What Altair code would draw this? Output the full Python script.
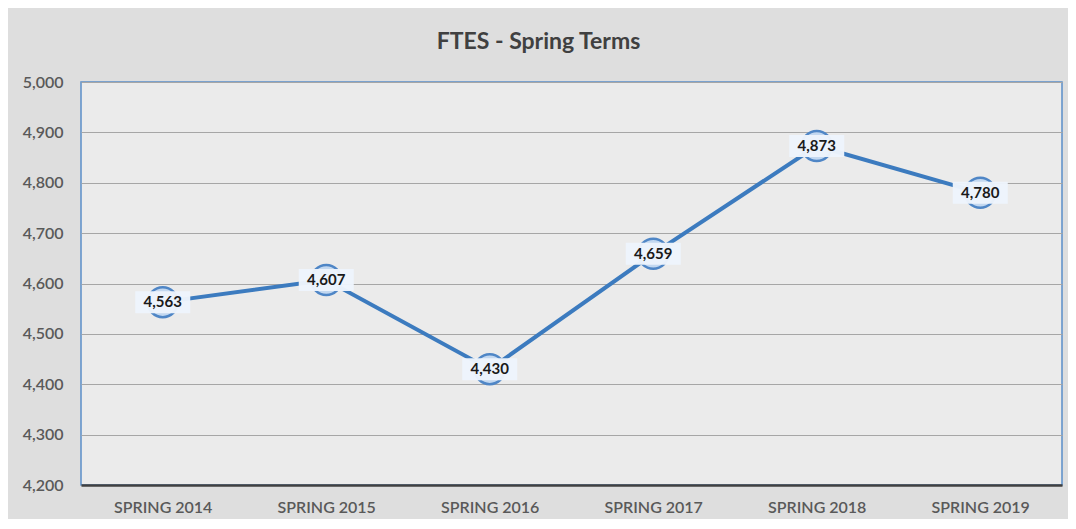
import altair as alt
import pandas as pd

terms = ["SPRING 2014", "SPRING 2015", "SPRING 2016", "SPRING 2017", "SPRING 2018", "SPRING 2019"]
ftes = [4563, 4607, 4430, 4659, 4873, 4780]

df = pd.DataFrame({"term": terms, "ftes": ftes})

FONT = "Lato"

x = alt.X("term:N", sort=terms, title=None,
          scale=alt.Scale(type="point", padding=0.5),
          axis=alt.Axis(labelAngle=0, labelFontSize=16, labelColor="#595959", labelFont=FONT,
                        labelFontWeight=600, labelPadding=14, ticks=False, domainColor="#404040",
                        domainWidth=2.5, grid=False))
y = alt.Y("ftes:Q", title=None,
          scale=alt.Scale(domain=[4200, 5000], nice=False, zero=False),
          axis=alt.Axis(values=list(range(4200, 5001, 100)), format=",.0f", labelFontSize=16,
                        labelColor="#595959", labelFont=FONT, labelFontWeight=600, labelPadding=18,
                        ticks=False, domain=False, grid=True, gridColor="#a6a6a6", gridWidth=1))

base = alt.Chart(df).encode(x=x, y=y)

line = base.mark_line(color="#3c7bbf", strokeWidth=4)
dots = base.mark_circle(size=900, color="#c3d8f0", stroke="#4f86c6", strokeWidth=2.5, opacity=1)
boxes = base.mark_point(shape="M-1,-0.4L1,-0.4L1,0.4L-1,0.4Z", size=3025, filled=True,
                        color="#edf4fc", opacity=0.97, strokeWidth=0)
labels = base.mark_text(font=FONT, fontSize=15, fontWeight="bold", color="#1a1a1a").encode(
    text=alt.Text("ftes:Q", format=",.0f"))

chart = alt.layer(line, dots, boxes, labels).properties(
    width=981, height=403,
    autosize=alt.AutoSizeParams(type="none"),
    padding={"left": 73, "top": 74, "right": 6, "bottom": 34},
    background="#dedede",
    title=alt.TitleParams("FTES - Spring Terms", font=FONT, fontSize=23, fontWeight="bold",
                          color="#404040", anchor="middle", offset=20, dx=-33),
).configure_view(
    stroke="#5b8ec9", strokeWidth=1.5, fill="#ebebeb",
)

chart.save("out.html", embed_options={"renderer": "svg", "actions": False})
